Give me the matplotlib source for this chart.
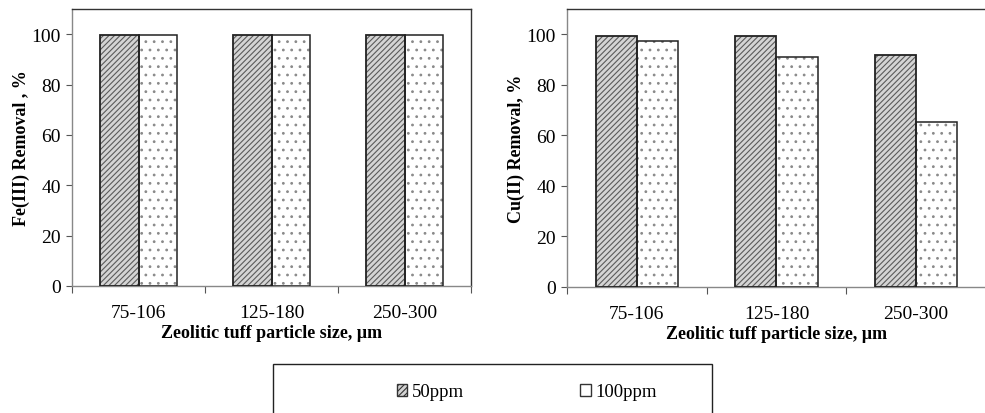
import matplotlib
matplotlib.use("Agg")
import matplotlib.pyplot as plt
import numpy as np
from matplotlib.patches import Patch, Rectangle

categories = ["75-106", "125-180", "250-300"]
fe_50 = [99.6, 99.6, 99.6]
fe_100 = [99.6, 99.6, 99.6]
cu_50 = [99.5, 99.5, 91.8]
cu_100 = [97.2, 91.1, 65.4]
series_names = ["50ppm", "100ppm"]

plt.rcParams['font.family'] = ['Liberation Serif', 'DejaVu Serif']
plt.rcParams['hatch.linewidth'] = 0.8

fig = plt.figure(figsize=(9.85, 4.14), dpi=100)

HATCH_FACE = "#d4d4d4"
HATCH_COL = "#5a5a5a"
DOT_COL = "#8a8a8a"

def draw(ax, v50, v100, ylabel, width):
    x = np.arange(len(categories))
    ax.bar(x - width/2, v50, width, color=HATCH_FACE, edgecolor=HATCH_COL,
           hatch="//////", linewidth=0, zorder=2)
    ax.bar(x - width/2, v50, width, fill=False, edgecolor="#222222",
           linewidth=1.3, zorder=3)
    ax.bar(x + width/2, v100, width, color="white", edgecolor=DOT_COL,
           hatch="..", linewidth=0, zorder=2)
    ax.bar(x + width/2, v100, width, fill=False, edgecolor="#222222",
           linewidth=1.1, zorder=3)
    ax.set_xlim(-0.5, 2.5)
    ax.set_ylim(0, 110)
    ax.set_yticks([0, 20, 40, 60, 80, 100])
    ax.set_xticks([-0.5, 0.5, 1.5, 2.5])
    ax.set_xticklabels([])
    ax.set_xticks(x, minor=True)
    ax.set_xticklabels(categories, minor=True)
    ax.tick_params(axis='x', which='major', length=5, direction='out', color='#555555')
    ax.tick_params(axis='x', which='minor', length=0, pad=13, labelsize=14)
    ax.tick_params(axis='y', length=4, direction='out', color='#555555', labelsize=14, pad=4)
    for s in ax.spines.values():
        s.set_color('#333333')
        s.set_linewidth(1.0)
    ax.spines['left'].set_color('#888888')
    ax.spines['bottom'].set_color('#888888')
    ax.set_ylabel(ylabel, fontsize=13, fontweight='bold', labelpad=1)
    ax.set_xlabel("Zeolitic tuff particle size, µm", fontsize=13, fontweight='bold', labelpad=2)

ax1 = fig.add_axes([72/985, 1-287/414, (471-72)/985, 277/414])
draw(ax1, fe_50, fe_100, "Fe(III) Removal , %", 0.29)

ax2 = fig.add_axes([567/985, 1-288/414, (986-567)/985, 278/414])
draw(ax2, cu_50, cu_100, "Cu(II) Removal, %", 0.295)

fig.patches.append(Rectangle((273/985, -0.01), (712-273)/985, (414-365)/414 + 0.01,
                             transform=fig.transFigure, fill=False,
                             edgecolor='#222222', linewidth=1.0))
handles = [Patch(facecolor=HATCH_FACE, edgecolor="#333333", hatch="//////"),
           Patch(facecolor="white", edgecolor="#333333")]
fig.legend(handles, series_names, loc='center left', bbox_to_anchor=(397/985, 21/414),
           ncol=2, frameon=False, fontsize=13.5, handlelength=0.55, handleheight=0.55,
           handletextpad=0.25, columnspacing=6.2, borderpad=0, borderaxespad=0)

fig.savefig("out.png", dpi=100)
